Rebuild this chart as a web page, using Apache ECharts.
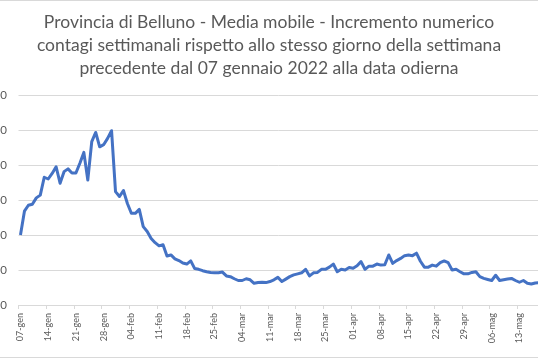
<!DOCTYPE html>
<html>
<head>
<meta charset="utf-8">
<script src="https://cdn.jsdelivr.net/npm/echarts@6/dist/echarts.min.js"></script>
<style>html,body{margin:0;padding:0;background:#fff;}#c{width:538px;height:359px;}</style>
</head>
<body>
<div id="c"></div>
<script>
const titleText = 'Provincia di Belluno - Media mobile - Incremento numerico\ncontagi settimanali rispetto allo stesso giorno della settimana\nprecedente dal 07 gennaio 2022 alla data odierna';
const monthNames = ['gen','feb','mar','apr','mag','giu'];
const startDate = [2022, 0, 7];
const dayCount = 132;
const yTicks = [0, 100, 200, 300, 400, 500, 600];
const values = [
  200,268,285,288,306,314,365,360,376,395,
  348,381,389,377,377,405,436,357,467,493,
  452,458,476,498,324,310,327,290,262,262,
  273,224,210,190,178,169,172,140,143,132,
  127,120,117,126,104,102,98,95,93,92,
  92,94,83,81,75,70,70,75,72,62,
  64,65,64,67,72,79,67,74,81,86,
  89,92,102,83,92,93,102,102,108,117,
  95,102,100,107,105,112,124,102,111,111,
  117,114,115,143,119,127,133,141,143,141,
  148,125,108,108,114,111,121,126,121,100,
  102,95,89,89,93,95,81,76,73,70,
  85,70,72,74,76,70,65,70,62,60,
  63,64
];
const categories = [];
for (let i = 0; i < dayCount; i++) {
  const d = new Date(startDate[0], startDate[1], startDate[2] + i);
  categories.push(String(d.getDate()).padStart(2,'0') + '-' + monthNames[d.getMonth()]);
}

const chart = echarts.init(document.getElementById('c'), null, {renderer:'canvas'});
chart.setOption({
  animation: false,
  backgroundColor: '#fff',
  title: {
    text: titleText,
    left: 'center',
    top: 6,
    textStyle: {
      fontFamily: 'Lato', fontSize: 17.5, fontWeight: 'normal',
      color: '#595959', lineHeight: 23
    }
  },
  graphic: [{
    type: 'rect', silent: true,
    shape: {x: -5, y: 0.5, width: 548, height: 357},
    style: {fill: 'none', stroke: '#d9d9d9', lineWidth: 1}
  }],
  grid: {left: 18.5, right: -3.2, top: 95, bottom: 54, containLabel: false, outerBoundsMode: 'none'},
  xAxis: {
    type: 'category',
    data: categories,
    boundaryGap: true,
    axisLine: {show: true, lineStyle: {color: '#d9d9d9', width: 1}},
    axisTick: {show: true, interval: 6, length: 4, alignWithLabel: false, lineStyle: {color: '#d9d9d9'}},
    axisLabel: {interval: 6, rotate: 90, margin: 8, fontFamily: 'Lato', fontSize: 9, color: '#595959', hideOverlap: false},
    splitLine: {show: false}
  },
  yAxis: {
    type: 'value',
    min: yTicks[0], max: yTicks[yTicks.length-1], interval: yTicks[1]-yTicks[0],
    axisLine: {show: false}, axisTick: {show: false},
    axisLabel: {margin: 11.5, fontFamily: 'Lato', fontSize: 11.5, color: '#595959'},
    splitLine: {lineStyle: {color: '#d9d9d9', width: 1}}
  },
  series: [{
    type: 'line',
    data: values,
    showSymbol: false,
    symbol: 'none',
    smooth: false,
    lineStyle: {color: '#4472C4', width: 3, join: 'round'},
    itemStyle: {color: '#4472C4'}
  }]
});
</script>
</body>
</html>
